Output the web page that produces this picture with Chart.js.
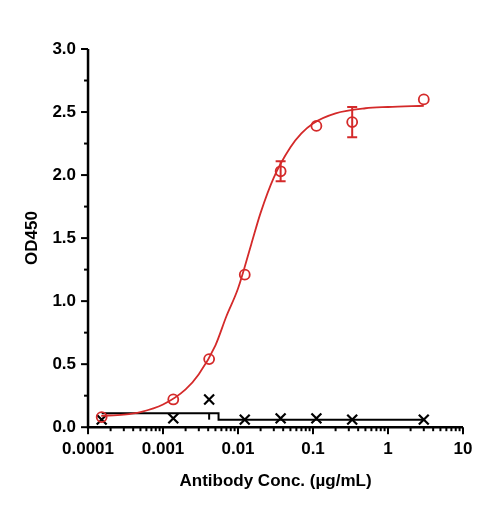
<!DOCTYPE html>
<html><head><meta charset="utf-8">
<script src="https://cdn.jsdelivr.net/npm/chart.js@4/dist/chart.umd.min.js"></script>
<style>html,body{margin:0;background:#fff}#wrap{width:485px;height:508px}</style>
</head><body><div id="wrap"><canvas id="c"></canvas></div>
<script>
// concentrations (µg/mL), 9-fold dilution series
const conc = [0.000152, 0.00137, 0.00412, 0.0123, 0.037, 0.111, 0.333, 3.0];
const redOD = [0.08, 0.22, 0.54, 1.21, 2.03, 2.39, 2.42, 2.60];
const redErr = [0, 0, 0, 0, 0.08, 0, 0.12, 0];
const blackOD = [0.06, 0.07, 0.22, 0.06, 0.07, 0.07, 0.06, 0.06];
// fitted curve
const curveX = [0.00015, 0.0003, 0.0005, 0.001, 0.002, 0.003, 0.005, 0.007, 0.01, 0.015, 0.02, 0.03, 0.05, 0.07, 0.1, 0.2, 0.5, 1, 3];
const curveY = [0.09, 0.1, 0.12, 0.18, 0.3, 0.42, 0.65, 0.88, 1.1, 1.45, 1.7, 1.98, 2.22, 2.33, 2.41, 2.49, 2.53, 2.54, 2.55];
// black step fit
const stepX = [0.000152, 0.0055, 0.0055, 3.0];
const stepY = [0.11, 0.11, 0.06, 0.06];
const xTicks = [0.0001, 0.001, 0.01, 0.1, 1, 10];
const yTicks = [0, 0.5, 1.0, 1.5, 2.0, 2.5, 3.0];
const RED = "#d42a2a";

const pts = (xs, ys) => xs.map((x, i) => ({ x, y: ys[i] }));

// axes, ticks and error bars drawn by hand
const axesPlugin = {
  id: "axes",
  afterDatasetsDraw(chart) {
    const { ctx, chartArea: a, scales: { x, y } } = chart;
    ctx.save();
    ctx.strokeStyle = "#000"; ctx.lineWidth = 2.5;
    ctx.beginPath();
    ctx.moveTo(a.left, a.top); ctx.lineTo(a.left, a.bottom); ctx.lineTo(a.right, a.bottom);
    ctx.stroke();
    ctx.lineWidth = 2;
    for (let e = -4; e <= 1; e++) {
      for (let m = 1; m <= 9; m++) {
        const v = m * Math.pow(10, e);
        if (v > 10.0001) break;
        const px = x.getPixelForValue(v);
        const len = m === 1 ? 7 : 4;
        ctx.beginPath(); ctx.moveTo(px, a.bottom); ctx.lineTo(px, a.bottom + len); ctx.stroke();
      }
    }
    for (let v = 0; v <= 3.001; v += 0.25) {
      const py = y.getPixelForValue(v);
      const len = Math.abs(v * 2 - Math.round(v * 2)) < 1e-6 ? 7 : 4;
      ctx.beginPath(); ctx.moveTo(a.left, py); ctx.lineTo(a.left - len, py); ctx.stroke();
    }
    // error bars
    ctx.strokeStyle = RED; ctx.lineWidth = 2;
    conc.forEach((c, i) => {
      if (!redErr[i]) return;
      const px = x.getPixelForValue(c);
      const y1 = y.getPixelForValue(redOD[i] + redErr[i]);
      const y2 = y.getPixelForValue(redOD[i] - redErr[i]);
      ctx.beginPath();
      ctx.moveTo(px, y1); ctx.lineTo(px, y2);
      ctx.moveTo(px - 5, y1); ctx.lineTo(px + 5, y1);
      ctx.moveTo(px - 5, y2); ctx.lineTo(px + 5, y2);
      ctx.stroke();
    });
    // small mark at the black outlier
    ctx.strokeStyle = "#000";
    const mx = x.getPixelForValue(conc[2]);
    ctx.beginPath(); ctx.moveTo(mx, y.getPixelForValue(0.06)); ctx.lineTo(mx, y.getPixelForValue(0.11)); ctx.stroke();
    ctx.restore();
  }
};

const F = { family: "Liberation Sans", size: 17, weight: "bold" };

new Chart(document.getElementById("c"), {
  type: "scatter",
  data: {
    datasets: [
      { data: pts(curveX, curveY), showLine: true, borderColor: RED, borderWidth: 1.8, pointRadius: 0, cubicInterpolationMode: "monotone", fill: false },
      { data: pts(conc, redOD), pointStyle: "circle", pointRadius: 5, borderColor: RED, backgroundColor: "rgba(0,0,0,0)", pointBorderWidth: 1.8 },
      { data: pts(stepX, stepY), showLine: true, borderColor: "#000", borderWidth: 2, pointRadius: 0, tension: 0 },
      { data: pts(conc, blackOD), pointStyle: "cross", rotation: 45, pointRadius: 7, borderColor: "#000", pointBorderWidth: 2.2 },
    ]
  },
  options: {
    responsive: true, maintainAspectRatio: false, animation: false,
    layout: { padding: { top: 49, right: 22, left: 18, bottom: 12 } },
    plugins: { legend: { display: false }, tooltip: { enabled: false } },
    scales: {
      x: {
        type: "logarithmic", min: 0.0001, max: 10,
        afterBuildTicks: (s) => { s.ticks = xTicks.map((v) => ({ value: v })); },
        ticks: { color: "#000", font: F, maxRotation: 0, padding: 4, callback: (v) => String(v) },
        grid: { display: false, drawTicks: true, tickLength: 8 }, border: { display: false },
        title: { display: true, text: "Antibody Conc. (µg/mL)", color: "#000", font: F, padding: { top: 8 } }
      },
      y: {
        min: 0, max: 3,
        afterBuildTicks: (s) => { s.ticks = yTicks.map((v) => ({ value: v })); },
        ticks: { color: "#000", font: F, padding: 4, callback: (v) => v.toFixed(1) },
        grid: { display: false, drawTicks: true, tickLength: 8 }, border: { display: false },
        title: { display: true, text: "OD450", color: "#000", font: F, padding: { bottom: 6 } }
      }
    }
  },
  plugins: [axesPlugin]
});
</script></body></html>
